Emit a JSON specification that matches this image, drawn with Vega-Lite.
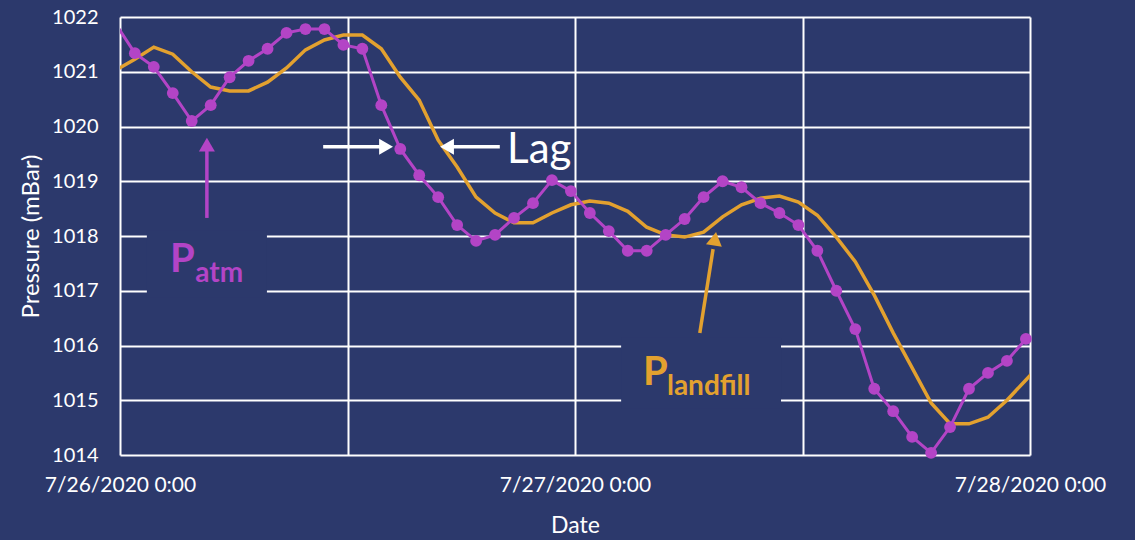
{
  "$schema": "https://vega.github.io/schema/vega-lite/v6.json",
  "width": 910,
  "height": 438,
  "autosize": "none",
  "padding": {"left": 120, "top": 17, "right": 105, "bottom": 85},
  "background": "#2c396c",
  "config": {
    "view": {"stroke": null},
    "font": "Lato"
  },
  "datasets": {
    "atm": [
      {"t": "2020-07-25T23:47", "v": 1021.87},
      {"t": "2020-07-26T00:47", "v": 1021.34},
      {"t": "2020-07-26T01:47", "v": 1021.09},
      {"t": "2020-07-26T02:47", "v": 1020.61},
      {"t": "2020-07-26T03:47", "v": 1020.10},
      {"t": "2020-07-26T04:47", "v": 1020.39},
      {"t": "2020-07-26T05:47", "v": 1020.90},
      {"t": "2020-07-26T06:47", "v": 1021.20},
      {"t": "2020-07-26T07:47", "v": 1021.42},
      {"t": "2020-07-26T08:47", "v": 1021.71},
      {"t": "2020-07-26T09:47", "v": 1021.78},
      {"t": "2020-07-26T10:47", "v": 1021.78},
      {"t": "2020-07-26T11:47", "v": 1021.49},
      {"t": "2020-07-26T12:47", "v": 1021.42},
      {"t": "2020-07-26T13:47", "v": 1020.39},
      {"t": "2020-07-26T14:47", "v": 1019.59},
      {"t": "2020-07-26T15:47", "v": 1019.11},
      {"t": "2020-07-26T16:47", "v": 1018.71},
      {"t": "2020-07-26T17:47", "v": 1018.20},
      {"t": "2020-07-26T18:47", "v": 1017.91},
      {"t": "2020-07-26T19:47", "v": 1018.02},
      {"t": "2020-07-26T20:47", "v": 1018.33},
      {"t": "2020-07-26T21:47", "v": 1018.60},
      {"t": "2020-07-26T22:47", "v": 1019.02},
      {"t": "2020-07-26T23:47", "v": 1018.82},
      {"t": "2020-07-27T00:47", "v": 1018.42},
      {"t": "2020-07-27T01:47", "v": 1018.09},
      {"t": "2020-07-27T02:47", "v": 1017.73},
      {"t": "2020-07-27T03:47", "v": 1017.73},
      {"t": "2020-07-27T04:47", "v": 1018.02},
      {"t": "2020-07-27T05:47", "v": 1018.31},
      {"t": "2020-07-27T06:47", "v": 1018.71},
      {"t": "2020-07-27T07:47", "v": 1019.00},
      {"t": "2020-07-27T08:47", "v": 1018.89},
      {"t": "2020-07-27T09:47", "v": 1018.60},
      {"t": "2020-07-27T10:47", "v": 1018.42},
      {"t": "2020-07-27T11:47", "v": 1018.20},
      {"t": "2020-07-27T12:47", "v": 1017.73},
      {"t": "2020-07-27T13:47", "v": 1017.00},
      {"t": "2020-07-27T14:47", "v": 1016.30},
      {"t": "2020-07-27T15:47", "v": 1015.21},
      {"t": "2020-07-27T16:47", "v": 1014.80},
      {"t": "2020-07-27T17:47", "v": 1014.33},
      {"t": "2020-07-27T18:47", "v": 1014.04},
      {"t": "2020-07-27T19:47", "v": 1014.51},
      {"t": "2020-07-27T20:47", "v": 1015.21},
      {"t": "2020-07-27T21:47", "v": 1015.50},
      {"t": "2020-07-27T22:47", "v": 1015.72},
      {"t": "2020-07-27T23:47", "v": 1016.12}
    ],
    "landfill": [
      {"t": "2020-07-25T23:47", "v": 1021.03},
      {"t": "2020-07-26T00:47", "v": 1021.23},
      {"t": "2020-07-26T01:47", "v": 1021.45},
      {"t": "2020-07-26T02:47", "v": 1021.32},
      {"t": "2020-07-26T03:47", "v": 1021.00},
      {"t": "2020-07-26T04:47", "v": 1020.72},
      {"t": "2020-07-26T05:47", "v": 1020.65},
      {"t": "2020-07-26T06:47", "v": 1020.65},
      {"t": "2020-07-26T07:47", "v": 1020.81},
      {"t": "2020-07-26T08:47", "v": 1021.07},
      {"t": "2020-07-26T09:47", "v": 1021.40},
      {"t": "2020-07-26T10:47", "v": 1021.58},
      {"t": "2020-07-26T11:47", "v": 1021.67},
      {"t": "2020-07-26T12:47", "v": 1021.67},
      {"t": "2020-07-26T13:47", "v": 1021.42},
      {"t": "2020-07-26T14:47", "v": 1020.90},
      {"t": "2020-07-26T15:47", "v": 1020.48},
      {"t": "2020-07-26T16:47", "v": 1019.75},
      {"t": "2020-07-26T17:47", "v": 1019.26},
      {"t": "2020-07-26T18:47", "v": 1018.71},
      {"t": "2020-07-26T19:47", "v": 1018.42},
      {"t": "2020-07-26T20:47", "v": 1018.24},
      {"t": "2020-07-26T21:47", "v": 1018.24},
      {"t": "2020-07-26T22:47", "v": 1018.42},
      {"t": "2020-07-26T23:47", "v": 1018.57},
      {"t": "2020-07-27T00:47", "v": 1018.64},
      {"t": "2020-07-27T01:47", "v": 1018.60},
      {"t": "2020-07-27T02:47", "v": 1018.45},
      {"t": "2020-07-27T03:47", "v": 1018.16},
      {"t": "2020-07-27T04:47", "v": 1018.02},
      {"t": "2020-07-27T05:47", "v": 1017.98},
      {"t": "2020-07-27T06:47", "v": 1018.07},
      {"t": "2020-07-27T07:47", "v": 1018.35},
      {"t": "2020-07-27T08:47", "v": 1018.57},
      {"t": "2020-07-27T09:47", "v": 1018.69},
      {"t": "2020-07-27T10:47", "v": 1018.73},
      {"t": "2020-07-27T11:47", "v": 1018.62},
      {"t": "2020-07-27T12:47", "v": 1018.38},
      {"t": "2020-07-27T13:47", "v": 1017.98},
      {"t": "2020-07-27T14:47", "v": 1017.53},
      {"t": "2020-07-27T15:47", "v": 1016.92},
      {"t": "2020-07-27T16:47", "v": 1016.23},
      {"t": "2020-07-27T17:47", "v": 1015.59},
      {"t": "2020-07-27T18:47", "v": 1014.95},
      {"t": "2020-07-27T19:47", "v": 1014.57},
      {"t": "2020-07-27T20:47", "v": 1014.57},
      {"t": "2020-07-27T21:47", "v": 1014.69},
      {"t": "2020-07-27T22:47", "v": 1015.00},
      {"t": "2020-07-27T23:47", "v": 1015.37},
      {"t": "2020-07-28T00:47", "v": 1015.75}
    ],
    "labelBoxes": [
      {"name": "atm", "t": "2020-07-26T01:25", "t2": "2020-07-26T07:45", "v": 1018.1, "v2": 1016.88},
      {"name": "landfill", "t": "2020-07-27T02:26", "t2": "2020-07-27T10:52", "v": 1016.15, "v2": 1014.85}
    ],
    "arrowShafts": [
      {"name": "atm", "color": "atm", "t": "2020-07-26T04:35", "t2": "2020-07-26T04:35", "v": 1018.33, "v2": 1019.62},
      {"name": "landfill", "color": "landfill", "t": "2020-07-27T06:35", "t2": "2020-07-27T07:17", "v": 1016.23, "v2": 1017.76},
      {"name": "lagLeft", "color": "lag", "t": "2020-07-26T10:43", "t2": "2020-07-26T13:50", "v": 1019.63, "v2": 1019.63},
      {"name": "lagRight", "color": "lag", "t": "2020-07-26T17:30", "t2": "2020-07-26T20:02", "v": 1019.63, "v2": 1019.63}
    ],
    "arrowHeads": [
      {"name": "atm", "color": "atm", "shape": "triangle-up", "angle": 0, "t": "2020-07-26T04:35", "v": 1019.67},
      {"name": "landfill", "color": "landfill", "shape": "triangle-up", "angle": 9, "t": "2020-07-27T07:23", "v": 1017.95},
      {"name": "lagLeft", "color": "lag", "shape": "triangle-right", "angle": 0, "t": "2020-07-26T14:02", "v": 1019.63},
      {"name": "lagRight", "color": "lag", "shape": "triangle-left", "angle": 0, "t": "2020-07-26T17:15", "v": 1019.63}
    ],
    "bigLabels": [
      {"color": "atm", "t": "2020-07-26T02:38", "v": 1017.34, "label": "P"},
      {"color": "landfill", "t": "2020-07-27T03:35", "v": 1015.28, "label": "P"}
    ],
    "subLabels": [
      {"color": "atm", "t": "2020-07-26T03:58", "v": 1017.16, "label": "atm"},
      {"color": "landfill", "t": "2020-07-27T04:51", "v": 1015.10, "label": "landfill"}
    ],
    "lagLabel": [
      {"t": "2020-07-26T20:25", "v": 1019.33, "label": "Lag"}
    ]
  },
  "encoding": {
    "x": {
      "field": "t",
      "type": "temporal",
      "scale": {
        "domain": [
          {"year": 2020, "month": 7, "date": 26, "hours": 0},
          {"year": 2020, "month": 7, "date": 28, "hours": 0}
        ]
      },
      "axis": {
        "values": [
          {"year": 2020, "month": 7, "date": 26, "hours": 0},
          {"year": 2020, "month": 7, "date": 26, "hours": 12},
          {"year": 2020, "month": 7, "date": 27, "hours": 0},
          {"year": 2020, "month": 7, "date": 27, "hours": 12},
          {"year": 2020, "month": 7, "date": 28, "hours": 0}
        ],
        "labelExpr": "hours(datum.value) == 0 ? timeFormat(datum.value, '%-m/%-d/%Y %-H:%M') : ''",
        "grid": true,
        "gridColor": "#ffffff",
        "gridWidth": 2,
        "gridOpacity": 1,
        "domain": false,
        "ticks": false,
        "labelColor": "#ffffff",
        "labelFontSize": 21,
        "labelPadding": 19,
        "labelFlush": false,
        "labelOverlap": false,
        "labelBound": false,
        "title": "Date",
        "titleColor": "#ffffff",
        "titleFontSize": 23,
        "titleFontWeight": "normal",
        "titlePadding": 19
      }
    },
    "y": {
      "field": "v",
      "type": "quantitative",
      "scale": {"domain": [1014, 1022], "nice": false, "zero": false},
      "axis": {
        "values": [1014, 1015, 1016, 1017, 1018, 1019, 1020, 1021, 1022],
        "format": "d",
        "grid": true,
        "gridColor": "#ffffff",
        "gridWidth": 2,
        "gridOpacity": 1,
        "domain": false,
        "ticks": false,
        "labelColor": "#ffffff",
        "labelFontSize": 20,
        "labelPadding": 22,
        "labelOverlap": false,
        "labelBound": false,
        "title": "Pressure (mBar)",
        "titleColor": "#ffffff",
        "titleFontSize": 24,
        "titleFontWeight": "normal",
        "titleAngle": -90,
        "titleBaseline": "middle",
        "titleX": -89
      }
    }
  },
  "layer": [
    {
      "data": {"name": "labelBoxes"},
      "mark": {"type": "rect", "fill": "#2c396c", "stroke": null},
      "encoding": {"x2": {"field": "t2"}, "y2": {"field": "v2"}}
    },
    {
      "data": {"name": "landfill"},
      "mark": {"type": "line", "color": "#e3a12f", "strokeWidth": 3.5, "clip": true},
      "encoding": {}
    },
    {
      "data": {"name": "atm"},
      "mark": {"type": "line", "color": "#b344c6", "strokeWidth": 3, "clip": true},
      "encoding": {}
    },
    {
      "data": {"name": "atm"},
      "transform": [{"filter": "time(datum.t) >= time(datetime(2020, 6, 26, 0, 0))"}],
      "mark": {"type": "point", "filled": true, "color": "#b344c6", "size": 140, "opacity": 1},
      "encoding": {}
    },
    {
      "data": {"name": "arrowShafts"},
      "mark": {"type": "rule", "strokeWidth": 3.5},
      "encoding": {
        "x2": {"field": "t2"},
        "y2": {"field": "v2"},
        "color": {
          "field": "color",
          "type": "nominal",
          "scale": {"domain": ["atm", "landfill", "lag"], "range": ["#b344c6", "#e3a12f", "#ffffff"]},
          "legend": null
        }
      }
    },
    {
      "data": {"name": "arrowHeads"},
      "mark": {"type": "point", "filled": true, "size": 256, "opacity": 1},
      "encoding": {
        "shape": {"field": "shape", "type": "nominal", "scale": null},
        "angle": {"field": "angle", "type": "quantitative", "scale": null},
        "color": {
          "field": "color",
          "type": "nominal",
          "scale": {"domain": ["atm", "landfill", "lag"], "range": ["#b344c6", "#e3a12f", "#ffffff"]},
          "legend": null
        }
      }
    },
    {
      "data": {"name": "bigLabels"},
      "mark": {"type": "text", "align": "left", "baseline": "alphabetic", "fontSize": 40, "fontWeight": "bold"},
      "encoding": {
        "text": {"field": "label"},
        "color": {
          "field": "color",
          "type": "nominal",
          "scale": {"domain": ["atm", "landfill", "lag"], "range": ["#b344c6", "#e3a12f", "#ffffff"]},
          "legend": null
        }
      }
    },
    {
      "data": {"name": "subLabels"},
      "mark": {"type": "text", "align": "left", "baseline": "alphabetic", "fontSize": 28, "fontWeight": "bold"},
      "encoding": {
        "text": {"field": "label"},
        "color": {
          "field": "color",
          "type": "nominal",
          "scale": {"domain": ["atm", "landfill", "lag"], "range": ["#b344c6", "#e3a12f", "#ffffff"]},
          "legend": null
        }
      }
    },
    {
      "data": {"name": "lagLabel"},
      "mark": {"type": "text", "align": "left", "baseline": "alphabetic", "fontSize": 42, "color": "#ffffff"},
      "encoding": {"text": {"field": "label"}}
    }
  ]
}
